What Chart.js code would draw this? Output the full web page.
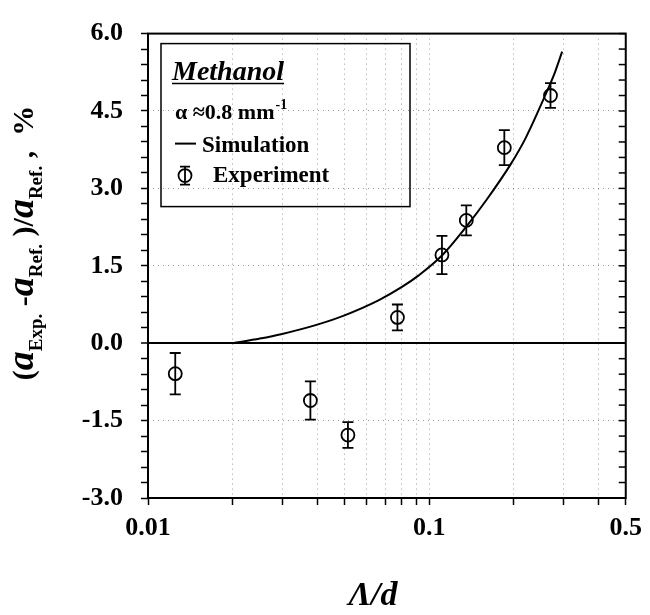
<!DOCTYPE html>
<html>
<head>
<meta charset="utf-8">
<script src="https://cdn.jsdelivr.net/npm/chart.js@4.4.0/dist/chart.umd.min.js"></script>
<style>
  html, body { margin: 0; padding: 0; background: #fff; }
  #chart { display: block; }
</style>
</head>
<body>
<canvas id="chart" width="650" height="615"></canvas>
<script>
// experiment points
const expX = [0.0125, 0.0378, 0.0514, 0.0771, 0.111, 0.1355, 0.185, 0.270]
const expY = [-0.59, -1.11, -1.78, 0.50, 1.71, 2.38, 3.79, 4.80]
const expErr = [0.40, 0.37, 0.25, 0.25, 0.37, 0.29, 0.34, 0.24]

// simulation curve
const simX = [0.02, 0.025, 0.03, 0.04, 0.05, 0.066, 0.08, 0.0915, 0.111, 0.1355, 0.16, 0.195, 0.22, 0.256, 0.28, 0.297]
const simY = [0.0, 0.09, 0.18, 0.36, 0.54, 0.83, 1.09, 1.31, 1.70, 2.26, 2.78, 3.47, 3.97, 4.75, 5.25, 5.65]

// axes
const xTicks = [0.01, 0.02, 0.03, 0.04, 0.05, 0.06, 0.07, 0.08, 0.09, 0.1, 0.2, 0.3, 0.4, 0.5]
const xLabels = [0.01, 0.1, 0.5]
const yMin = -3
const yMax = 6
const yMajor = 1.5
const yMinor = 0.3

const serif = "'Liberation Serif', 'Times New Roman', serif"
Chart.defaults.font.family = serif
Chart.defaults.color = '#000'

const isMajor = v => Math.abs(v / yMajor - Math.round(v / yMajor)) < 1e-6

const decorations = {
    id: 'decorations',
    afterDatasetsDraw(chart) {
        const { ctx, scales: { x, y } } = chart
        ctx.save()
        ctx.strokeStyle = '#000'
        ctx.lineWidth = 1.8
        expX.forEach((v, i) => {
            const px = x.getPixelForValue(v)
            const top = y.getPixelForValue(expY[i] + expErr[i])
            const bot = y.getPixelForValue(expY[i] - expErr[i])
            ctx.beginPath()
            ctx.moveTo(px, top); ctx.lineTo(px, bot)
            ctx.moveTo(px - 5.5, top); ctx.lineTo(px + 5.5, top)
            ctx.moveTo(px - 5.5, bot); ctx.lineTo(px + 5.5, bot)
            ctx.stroke()
        })
        ctx.restore()
    },
    afterDraw(chart) {
        const { ctx, chartArea: a, scales: { y } } = chart
        ctx.save()
        ctx.strokeStyle = '#000'
        ctx.fillStyle = '#000'

        // frame
        ctx.lineWidth = 2
        ctx.strokeRect(a.left, a.top, a.right - a.left, a.bottom - a.top)

        // inward ticks on the right side
        ctx.lineWidth = 1.5
        y.ticks.forEach(t => {
            const py = y.getPixelForValue(t.value)
            ctx.beginPath()
            ctx.moveTo(a.right, py)
            ctx.lineTo(a.right - 7, py)
            ctx.stroke()
        })

        // legend box
        const lx = a.left + 13
        const ly = a.top + 10
        ctx.lineWidth = 1.5
        ctx.strokeRect(lx, ly, 249, 163)

        ctx.textBaseline = 'alphabetic'
        ctx.textAlign = 'left'
        ctx.font = 'italic bold 28px ' + serif
        ctx.fillText('Methanol', lx + 11, ly + 36)
        const mw = ctx.measureText('Methanol').width
        ctx.beginPath()
        ctx.moveTo(lx + 11, ly + 40)
        ctx.lineTo(lx + 11 + mw, ly + 40)
        ctx.stroke()

        ctx.font = 'bold 22px ' + serif
        const alpha = '\u03b1 \u22480.8 mm'
        ctx.fillText(alpha, lx + 14, ly + 75)
        const aw = ctx.measureText(alpha).width
        ctx.font = 'bold 14px ' + serif
        ctx.fillText('-1', lx + 14 + aw + 1, ly + 65)

        // simulation entry
        ctx.lineWidth = 2
        ctx.beginPath()
        ctx.moveTo(lx + 14, ly + 100)
        ctx.lineTo(lx + 35, ly + 100)
        ctx.stroke()
        ctx.font = 'bold 23px ' + serif
        ctx.fillText('Simulation', lx + 41, ly + 108)

        // experiment entry
        const sx = lx + 24
        const sy = ly + 132
        ctx.lineWidth = 1.8
        ctx.beginPath()
        ctx.arc(sx, sy, 6.5, 0, Math.PI * 2)
        ctx.moveTo(sx, sy - 9); ctx.lineTo(sx, sy + 9)
        ctx.moveTo(sx - 5, sy - 9); ctx.lineTo(sx + 5, sy - 9)
        ctx.moveTo(sx - 5, sy + 9); ctx.lineTo(sx + 5, sy + 9)
        ctx.stroke()
        ctx.fillText('Experiment', lx + 52, ly + 138)

        // x title
        ctx.textAlign = 'center'
        ctx.font = 'italic bold 34px ' + serif
        ctx.fillText('\u039b/d', 373, 605)

        // y title with subscripts
        const main = 'bold 30px ' + serif
        const big = 'italic bold 38px ' + serif
        const sub = 'bold 19px ' + serif
        const parts = [
            ['(', main, 0], ['a', big, 0], ['Exp.', sub, 9],
            [' -', main, 0], ['a', big, 0], ['Ref.', sub, 9],
            [' )/', main, 0], ['a', big, 0], ['Ref.', sub, 9],
            [' ,  %', main, 0]
        ]
        let total = 0
        parts.forEach(p => { ctx.font = p[1]; total += ctx.measureText(p[0]).width })
        ctx.translate(33, 243)
        ctx.rotate(-Math.PI / 2)
        ctx.textAlign = 'left'
        let pos = -total / 2
        parts.forEach(p => {
            ctx.font = p[1]
            ctx.fillText(p[0], pos, p[2])
            pos += ctx.measureText(p[0]).width
        })
        ctx.restore()
    }
}

new Chart(document.getElementById('chart'), {
    type: 'scatter',
    data: {
        datasets: [
            {
                label: 'Simulation',
                data: simX.map((v, i) => ({ x: v, y: simY[i] })),
                showLine: true,
                borderColor: '#000',
                borderWidth: 2,
                pointRadius: 0,
                cubicInterpolationMode: 'monotone',
                fill: false
            },
            {
                label: 'Experiment',
                data: expX.map((v, i) => ({ x: v, y: expY[i] })),
                showLine: false,
                pointStyle: 'circle',
                pointRadius: 6.5,
                borderWidth: 1.8,
                borderColor: '#000',
                backgroundColor: 'rgba(0,0,0,0)'
            }
        ]
    },
    options: {
        responsive: false,
        animation: false,
        devicePixelRatio: 1,
        layout: { padding: { top: 19, right: 21, left: 0, bottom: 0 } },
        plugins: { legend: { display: false }, tooltip: { enabled: false } },
        scales: {
            x: {
                type: 'logarithmic',
                min: 0.01,
                max: 0.5,
                afterBuildTicks: s => { s.ticks = xTicks.map(v => ({ value: v })) },
                afterFit: s => { s.height = 117 },
                border: { display: false, dash: [1, 4] },
                grid: {
                    color: c => (c.tick && (c.tick.value === 0.01 || c.tick.value === 0.5)) ? 'rgba(0,0,0,0)' : 'rgba(0,0,0,0.4)',
                    lineWidth: 1,
                    tickColor: '#000',
                    tickWidth: 1.5,
                    tickLength: 7
                },
                ticks: {
                    autoSkip: false,
                    maxRotation: 0,
                    padding: 8,
                    font: { size: 26, weight: 'bold' },
                    callback: v => xLabels.includes(v) ? String(v) : ''
                }
            },
            y: {
                min: yMin,
                max: yMax,
                afterBuildTicks: s => {
                    const t = []
                    for (let v = yMin; v <= yMax + 1e-9; v += yMinor) t.push({ value: Math.round(v * 10) / 10 })
                    s.ticks = t
                },
                afterFit: s => { s.width = 148 },
                border: {
                    display: false,
                    dash: c => (c.tick && c.tick.value !== 0) ? [1, 4] : []
                },
                grid: {
                    color: c => {
                        if (!c.tick) return 'rgba(0,0,0,0)'
                        const v = c.tick.value
                        if (v === 0) return '#000'
                        if (v === yMin || v === yMax) return 'rgba(0,0,0,0)'
                        return isMajor(v) ? 'rgba(0,0,0,0.4)' : 'rgba(0,0,0,0)'
                    },
                    lineWidth: c => (c.tick && c.tick.value === 0) ? 2 : 1,
                    tickColor: '#000',
                    tickWidth: 1.5,
                    tickLength: 7
                },
                ticks: {
                    autoSkip: false,
                    padding: 18,
                    font: { size: 26, weight: 'bold' },
                    callback: v => isMajor(v) ? v.toFixed(1) : ''
                }
            }
        }
    },
    plugins: [decorations]
})
</script>
</body>
</html>
